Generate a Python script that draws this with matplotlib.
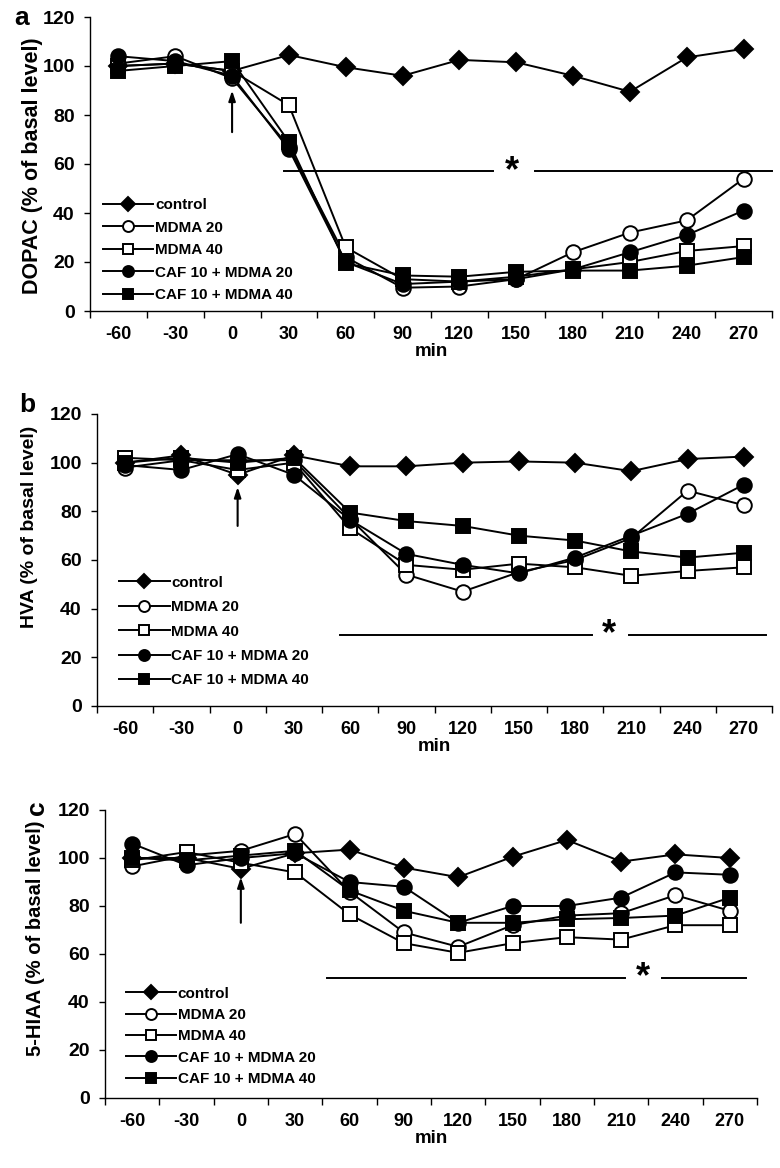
import matplotlib
matplotlib.use('Agg')
import matplotlib.pyplot as plt

plt.rcParams['font.family'] = ['Liberation Sans', 'DejaVu Sans']
plt.rcParams['font.weight'] = 'bold'

times = ['-60', '-30', '0', '30', '60', '90', '120', '150', '180', '210', '240', '270']
labels = ['control', 'MDMA 20', 'MDMA 40', 'CAF 10 + MDMA 20', 'CAF 10 + MDMA 40']

# panel a - DOPAC
dopac_control = [100, 101, 98, 104.5, 99.5, 96, 102.5, 101.5, 96, 89.5, 103.5, 107]
dopac_mdma20 = [101, 104, 95, 67, 22, 9.5, 10, 13, 24, 32, 37, 54]
dopac_mdma40 = [100, 101, 98, 84, 26, 13, 12, 14, 17, 20, 24.5, 26.5]
dopac_caf20 = [104, 102, 96, 66, 20, 11, 12, 13, 17, 24, 31, 41]
dopac_caf40 = [98, 100, 102, 69, 19.5, 14.5, 14, 16, 16.5, 16.5, 18.5, 22]

# panel b - HVA
hva_control = [100, 103, 95, 103, 98.5, 98.5, 100, 100.5, 100, 96.5, 101.5, 102.5]
hva_mdma20 = [98, 101, 101, 101, 77, 54, 47, 55, 60, 69, 88.5, 82.5]
hva_mdma40 = [102, 101, 97, 100, 73, 58, 56, 58.5, 57, 53.5, 55.5, 57]
hva_caf20 = [99, 97, 103.5, 95, 76.5, 62.5, 58, 54.5, 61, 70, 79, 91]
hva_caf40 = [100, 102, 100, 102, 79.5, 76, 74, 70, 68, 63.5, 61, 63]

# panel c - 5-HIAA
hiaa_control = [100, 100, 95.5, 102, 103.5, 96, 92, 100.5, 107.5, 98.5, 101.5, 100]
hiaa_mdma20 = [96.5, 101, 103, 110, 86, 69, 63, 72, 76, 77, 84.5, 78]
hiaa_mdma40 = [99, 102.5, 98, 94, 76.5, 64.5, 60.5, 64.5, 67, 66, 72, 72]
hiaa_caf20 = [106, 97, 100, 102, 90, 88, 73, 80, 80, 83.5, 94, 93]
hiaa_caf40 = [100, 99, 101, 103, 86.5, 78, 73, 73, 74.5, 75, 76, 83.5]

styles = [
    dict(marker='D', ms=9, mfc='black'),
    dict(marker='o', ms=10.5, mfc='white'),
    dict(marker='s', ms=10.5, mfc='white'),
    dict(marker='o', ms=10.5, mfc='black'),
    dict(marker='s', ms=10.5, mfc='black'),
]

fig = plt.figure(figsize=(7.8, 11.68), dpi=100)
W, H = 780.0, 1168.0


def panel(box, data, ylabel, ylab_xy, ylab_size, arrow, star_line, star_x, leg_xy, leg_sp):
    left, top, right, bottom = box
    ax = fig.add_axes([left / W, 1 - bottom / H, (right - left) / W, (bottom - top) / H])
    x = list(range(len(times)))
    for vals, lab, st in zip(data, labels, styles):
        ax.plot(x, vals, color='black', lw=1.4, mec='black', mew=1.4, label=lab, **st)
    ax.set_xlim(-0.5, len(times) - 0.5)
    ax.set_ylim(0, 120)
    ax.set_yticks(range(0, 121, 20))
    ax.set_xticks(x)
    ax.set_xticklabels(times)
    ax.set_xticks([i - 0.5 for i in range(len(times) + 1)], minor=True)
    ax.tick_params(axis='x', which='major', length=0, pad=11, labelsize=13)
    ax.tick_params(axis='x', which='minor', length=5, width=1)
    ax.tick_params(axis='y', length=4, width=1, pad=7, labelsize=14)
    for s in ['top', 'right']:
        ax.spines[s].set_visible(False)
    for s in ['left', 'bottom']:
        ax.spines[s].set_linewidth(1)
    ax.set_xlabel('min', fontsize=13.5, fontweight='bold', labelpad=0)
    fig.text(ylab_xy[0] / W, 1 - ylab_xy[1] / H, ylabel, rotation=90,
             ha='center', va='center', fontsize=ylab_size, fontweight='bold')
    ax.annotate('', xy=(2, arrow[1]), xytext=(2, arrow[0]),
                arrowprops=dict(arrowstyle='-|>,head_length=0.6,head_width=0.2',
                                lw=1.5, color='black', shrinkA=0, shrinkB=0))
    y, x1, x2, x3, x4 = star_line
    ax.plot([x1, x2], [y, y], color='black', lw=1.4, clip_on=False)
    ax.plot([x3, x4], [y, y], color='black', lw=1.4, clip_on=False)
    ax.text(star_x, y, '*', ha='center', va='center', fontsize=26, fontweight='bold')
    ax.legend(loc='upper left', bbox_to_anchor=leg_xy, frameon=False, fontsize=11,
              handlelength=3.3, handletextpad=0.1, labelspacing=leg_sp, markerscale=0.75,
              borderpad=0, borderaxespad=0, numpoints=1)
    return ax


panel((90, 17, 772, 311),
      [dopac_control, dopac_mdma20, dopac_mdma40, dopac_caf20, dopac_caf40],
      'DOPAC (% of basal level)', (33, 166), 15.5, (73, 90),
      (57, 2.91, 6.59, 7.33, 11.5), 6.93, (0.019, 0.383), 0.55)
fig.text(22 / W, 1 - 18 / H, 'a', ha='center', va='center', fontsize=19, fontweight='bold')

panel((97, 414, 772, 706),
      [hva_control, hva_mdma20, hva_mdma40, hva_caf20, hva_caf40],
      'HVA (% of basal level)', (30, 527), 14, (74, 90),
      (29.2, 3.82, 8.3, 8.96, 11.39), 8.6, (0.033, 0.446), 0.68)
fig.text(27 / W, 1 - 405 / H, 'b', ha='center', va='center', fontsize=19, fontweight='bold')

panel((105, 810, 757, 1098),
      [hiaa_control, hiaa_mdma20, hiaa_mdma40, hiaa_caf20, hiaa_caf40],
      '5-HIAA (% of basal level)', (36, 938), 14.5, (73, 92),
      (50, 3.59, 9.07, 9.75, 11.3), 9.4, (0.032, 0.386), 0.48)
fig.text(37 / W, 1 - 808 / H, 'c', rotation=90, ha='center', va='center',
         fontsize=19, fontweight='bold')

fig.savefig('out.png', dpi=100)
